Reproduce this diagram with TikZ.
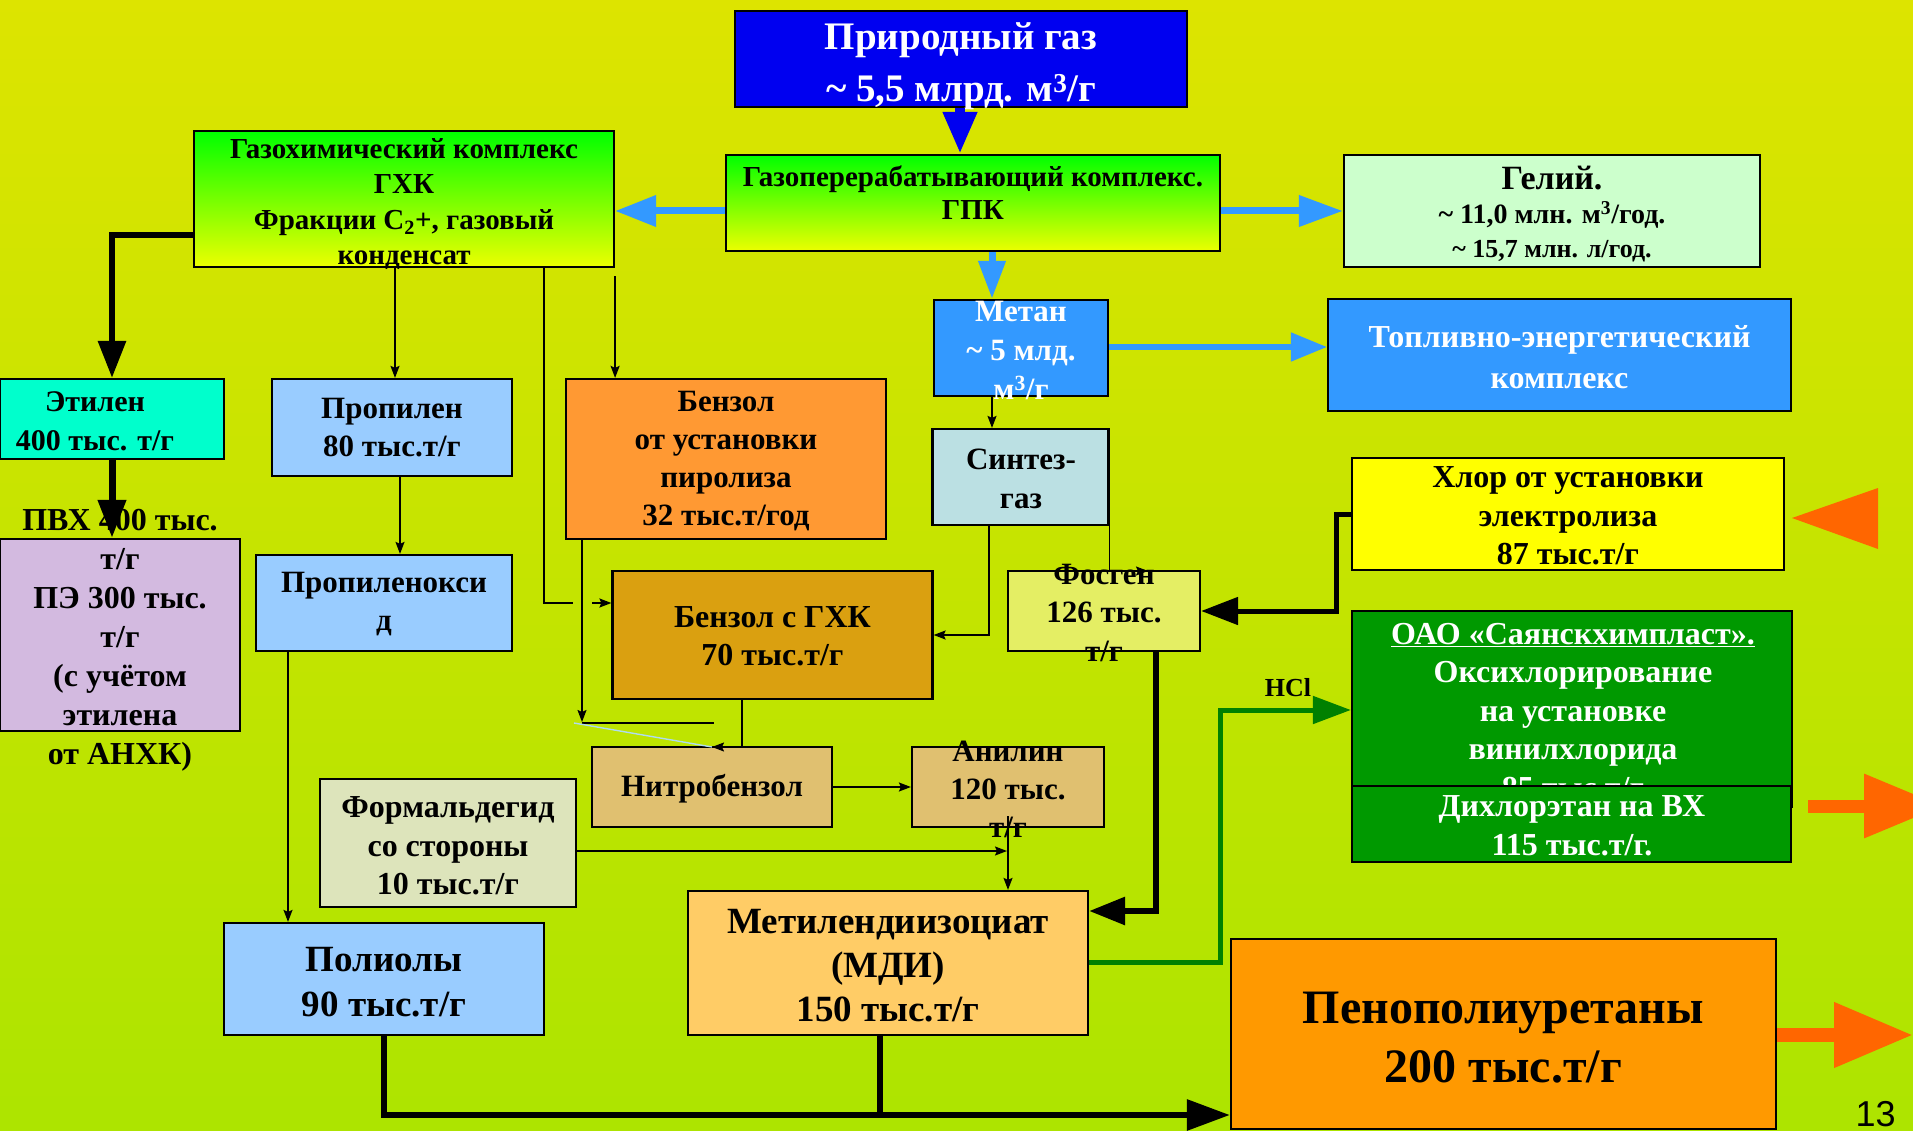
\documentclass[tikz,border=0pt]{standalone}
\usepackage{fontspec}
\setmainfont{Liberation Serif}
\newfontfamily\pagenumfont{Liberation Sans}
\usetikzlibrary{arrows.meta,calc}

\definecolor{bgTop}{RGB}{221,228,0}
\definecolor{bgBot}{RGB}{173,228,0}
\definecolor{cNat}{RGB}{0,0,240}
\definecolor{cLB}{RGB}{51,153,255}
\definecolor{gTop}{RGB}{0,255,0}
\definecolor{gBot}{RGB}{236,255,0}
\definecolor{cHe}{RGB}{204,255,204}
\definecolor{cSyn}{RGB}{187,224,227}
\definecolor{cBzP}{RGB}{255,153,51}
\definecolor{cBzG}{RGB}{218,160,16}
\definecolor{cTan}{RGB}{224,192,112}
\definecolor{cPhos}{RGB}{228,238,100}
\definecolor{cCl}{RGB}{255,255,0}
\definecolor{cOAO}{RGB}{0,153,0}
\definecolor{cHCl}{RGB}{0,128,0}
\definecolor{cOr}{RGB}{255,102,0}
\definecolor{cPPU}{RGB}{255,153,0}
\definecolor{cMDI}{RGB}{255,204,102}
\definecolor{cPol}{RGB}{153,204,255}
\definecolor{cForm}{RGB}{221,228,187}
\definecolor{cEth}{RGB}{0,255,204}
\definecolor{cPVC}{RGB}{211,186,224}
\definecolor{cPale}{RGB}{175,220,240}

\tikzset{
  box/.style={draw=black, line width=2.2pt, rectangle, inner sep=0pt},
  lbl/.style n args={2}{align=center, inner sep=0pt,
    font=\bfseries\fontsize{#1}{#2}\selectfont},
  flow/.style={line width=1.6pt, -{Stealth[length=12pt,width=9pt,inset=2pt]}},
  heavy/.style={line width=6pt, -{Triangle[length=37pt,width=27pt]}},
  pipe/.style={line width=7pt, draw=#1, -{Triangle[length=41pt,width=30pt]}},
}

\begin{document}
\begin{tikzpicture}[x=1pt,y=-1pt]
\useasboundingbox (0,0) rectangle (1913,1131);
\clip (0,0) rectangle (1913,1131);
\shade[top color=bgTop, bottom color=bgBot] (0,0) rectangle (1913,1131);

% ---------- boxes and their captions ----------
\node[box, fill=cNat, minimum width=452pt, minimum height=96pt] (natgas) at (961,59) {};
\node[lbl={39}{52}, text=white] (natgas-t) at (961,66)
  {Природный газ\\\textasciitilde\ 5,5 млрд. м\textsuperscript{3}/г};

\node[box, top color=gTop, bottom color=gBot, minimum width=494pt, minimum height=96pt] (gpk) at (973,203) {};
\node[lbl={29}{33}] (gpk-t) at (973,193) {Газоперерабатывающий комплекс.\\ГПК};

\node[box, top color=gTop, bottom color=gBot, minimum width=420pt, minimum height=136pt] (gxk) at (404,199) {};
\node[lbl={29}{35.5}] (gxk-t) at (404,204)
  {Газохимический комплекс\\ГХК\\Фракции С\textsubscript{2}+, газовый\\конденсат};

\node[box, fill=cHe, minimum width=416pt, minimum height=112pt] (helium) at (1552,211) {};
\node[lbl={28}{34}] (helium-t) at (1552,214)
  {{\fontsize{34}{34}\selectfont Гелий.}\\\textasciitilde\ 11,0 млн. м\textsuperscript{3}/год.\\
   {\fontsize{26}{34}\selectfont\textasciitilde\ 15,7 млн. л/год.}};

\node[box, fill=cLB, minimum width=174pt, minimum height=96pt] (metan) at (1021,348) {};
\node[lbl={31}{39}, text=white] (metan-t) at (1021,351)
  {Метан\\\textasciitilde\ 5 млд.\\м\textsuperscript{3}/г};

\node[box, fill=cLB, minimum width=463pt, minimum height=112pt] (tek) at (1559.5,355) {};
\node[lbl={32}{41}, text=white] (tek-t) at (1559.5,357) {Топливно-энергетический\\комплекс};

\node[box, fill=cSyn, minimum width=176pt, minimum height=96pt] (syngas) at (1020.5,477) {};
\node[lbl={31}{38.5}] (syngas-t) at (1021,479) {Синтез-\\газ};

\node[box, fill=cBzP, minimum width=320pt, minimum height=160pt] (benzpyr) at (726,459) {};
\node[lbl={31}{38.3}] (benzpyr-t) at (726,461)
  {Бензол\\от установки\\пиролиза\\32 тыс.т/год};

\node[box, fill=cBzG, minimum width=320pt, minimum height=128pt] (benzgxk) at (772.5,635) {};
\node[lbl={32}{38}] (benzgxk-t) at (772.5,636) {Бензол с ГХК\\70 тыс.т/г};

\node[box, fill=cTan, minimum width=240pt, minimum height=80pt] (nitro) at (712,787) {};
\node[lbl={31}{38}] (nitro-t) at (712,789) {Нитробензол};

\node[box, fill=cTan, minimum width=192pt, minimum height=80pt] (anilin) at (1008,787) {};
\node[lbl={31}{38}] (anilin-t) at (1008,789) {Анилин\\120 тыс.\\т/г};

\node[box, fill=cPhos, minimum width=192pt, minimum height=80pt] (phosgene) at (1104,611) {};
\node[lbl={31}{38.5}] (phosgene-t) at (1104,612.5) {Фосген\\126 тыс.\\т/г};

\node[box, fill=cCl, minimum width=432pt, minimum height=112pt] (chlorine) at (1568,514) {};
\node[lbl={32}{38.5}] (chlorine-t) at (1568,516)
  {Хлор от установки\\электролиза\\87 тыс.т/г};

\node[box, fill=cOAO, minimum width=440pt, minimum height=196pt] (oao) at (1572,709) {};
\node[lbl={32}{38.5}, text=white] (oao-t) at (1573,711)
  {\underline{ОАО «Саянскхимпласт».}\\Оксихлорирование\\на установке\\винилхлорида\\85 тыс.т/г};

\node[box, fill=cOAO, minimum width=439pt, minimum height=76pt] (dce) at (1571.5,824) {};
\node[lbl={32}{39}, text=white] (dce-t) at (1572,826) {Дихлорэтан на ВХ\\115 тыс.т/г.};

\node[box, fill=cMDI, minimum width=400pt, minimum height=144pt] (mdi) at (888,963) {};
\node[lbl={37}{44}] (mdi-t) at (888,966) {Метилендиизоциат\\(МДИ)\\150 тыс.т/г};

\node[box, fill=cPol, minimum width=320pt, minimum height=112pt] (polyol) at (384,979) {};
\node[lbl={37}{45}] (polyol-t) at (384,982) {Полиолы\\90 тыс.т/г};

\node[box, fill=cForm, minimum width=256pt, minimum height=128pt] (formald) at (448,843) {};
\node[lbl={32}{38.5}] (formald-t) at (448,846) {Формальдегид\\со стороны\\10 тыс.т/г};

\node[box, fill=cPol, minimum width=240pt, minimum height=97pt] (propylene) at (392,427.5) {};
\node[lbl={31}{38}] (propylene-t) at (392,428) {Пропилен\\80 тыс.т/г};

\node[box, fill=cPol, minimum width=256pt, minimum height=96pt] (propox) at (384,603) {};
\node[lbl={31}{38}] (propox-t) at (384,604) {Пропиленокси\\д};

\node[box, fill=cEth, minimum width=224pt, minimum height=80pt] (ethylene) at (112,419) {};
\node[lbl={30}{39}] (ethylene-t) at (95,421) {Этилен\\400 тыс. т/г};

\node[box, fill=cPVC, minimum width=240pt, minimum height=192pt] (pvc) at (120,635) {};
\node[lbl={32}{39}] (pvc-t) at (120,640)
  {ПВХ 400 тыс.\\т/г\\ПЭ 300 тыс.\\т/г\\(с учётом\\этилена\\от АНХК)};

\node[box, fill=cPPU, minimum width=545pt, minimum height=190pt] (ppu) at (1503.5,1034) {};
\node[lbl={48}{59}] (ppu-t) at (1503.5,1038) {Пенополиуретаны\\200 тыс.т/г};

\node[lbl={26}{30}] (hcl) at (1288,688) {HCl};
\node[inner sep=0pt, font=\pagenumfont\fontsize{36}{40}\selectfont] (pagenum) at (1875.5,1114) {13};

% ---------- free ends and bends ----------
\coordinate (gapL) at (573,603);
\coordinate (gapR) at (592,603);
\coordinate (gxkcorner) at ($(gxk.south east)+(0,8)$);
\coordinate (nbjoin) at (582,722);
\coordinate (nbbarL) at (582,723);
\coordinate (nbbarR) at (714,723);
\coordinate (paleA) at (574,723);
\coordinate (paleB) at (712,747);
\coordinate (phtip) at (1148,571);
\coordinate (clbend) at (1336,514);
\coordinate (hclbend) at (1220,710);
\coordinate (fmjoin) at (1007,851);
\coordinate (ppujoin) at (880,1115);
\coordinate (dceout) at (1808,806);
\coordinate (dceend) at (1943,806);
\coordinate (ppuend) at (1913,1035);

% ---------- natural gas and GPK streams ----------
\draw[line width=10pt, draw=cNat, -{Triangle[length=42pt,width=32pt]}]
  (natgas.south -| 960,0) -- (gpk.north -| 960,0);
\draw[pipe=cLB] (gpk.west |- 0,211) -- (gxk.east |- 0,211);
\draw[pipe=cLB, -{Triangle[length=44pt,width=30pt]}] (gpk.east |- 0,211) -- (helium.west |- 0,211);
\draw[pipe=cLB, -{Triangle[length=38pt,width=26pt]}] (gpk.south -| 992,0) -- (metan.north -| 992,0);
\draw[pipe=cLB, line width=5pt, -{Triangle[length=36pt,width=28pt]}] (metan.east |- 0,347) -- (tek.west |- 0,347);
\draw[flow] (metan.south -| 992,0) -- (syngas.north -| 992,0);

% ---------- GXK products ----------
\draw[heavy] (gxk.west |- 0,235) -| (ethylene.north);
\draw[heavy, line width=7pt, -{Triangle[length=38pt,width=27pt]}] (ethylene.south) -- (ethylene.south |- pvc.north);
\draw[flow] (gxk.south -| 395,0) -- (propylene.north -| 395,0);
\draw[line width=1.6pt] (gxk.south -| 544,0) |- (gapL);
\draw[flow] (gapR) -- (benzgxk.west |- gapR);
\draw[flow] (gxkcorner) -- (benzpyr.north -| gxkcorner);
\draw[flow] (propylene.south -| 400,0) -- (propox.north -| 400,0);
\draw[flow] (propox.south -| 288,0) -- (polyol.north -| 288,0);

% ---------- benzene to aniline ----------
\draw[flow] (benzpyr.south -| nbjoin) -- (nbjoin);
\draw[line width=1.6pt] (nbbarL) -- (nbbarR);
\draw[line width=1.4pt, draw=cPale] (paleA) -- (paleB);
\draw[flow] (benzgxk.south -| 742,0) |- (paleB);
\draw[flow] (syngas.south -| 989,0) |- (benzgxk.east);
\draw[flow] (syngas.south east) |- (phtip);
\draw[flow] (nitro.east |- 0,787) -- (anilin.west |- 0,787);
\draw[flow] ($(anilin.south)+(0,-12)$) -- (mdi.north -| anilin.south);
\draw[flow] (formald.east |- fmjoin) -- (fmjoin);

% ---------- chlorine, phosgene, MDI ----------
\draw[heavy, line width=5pt] (chlorine.west |- clbend) -- (clbend) |- (phosgene.east |- 0,611);
\draw[heavy, -{Triangle[length=36pt,width=27pt]}] (phosgene.south -| 1156,0) |- (mdi.east |- 0,911);
\draw[line width=5pt, draw=cHCl, -{Triangle[length=38pt,width=27pt]}]
  (mdi.east |- 0,962) -| (hclbend) -- (oao.west |- hclbend);

% ---------- polyurethane foam ----------
\draw[heavy, -{Triangle[length=43pt,width=30pt]}] (polyol.south) |- (ppu.west |- ppujoin);
\draw[line width=6pt] (mdi.south -| ppujoin) -- (ppujoin);

% ---------- outgoing orange markers ----------
\draw[line width=14pt, draw=cOr, -{Triangle[length=79pt,width=62pt]}] (ppu.east |- ppuend) -- (ppuend);
\draw[line width=13pt, draw=cOr, -{Triangle[length=79pt,width=61pt]}] (dceout) -- (dceend);
\fill[cOr] (1792,518) -- (1878,488) -- (1878,549) -- cycle;
\end{tikzpicture}
\end{document}
